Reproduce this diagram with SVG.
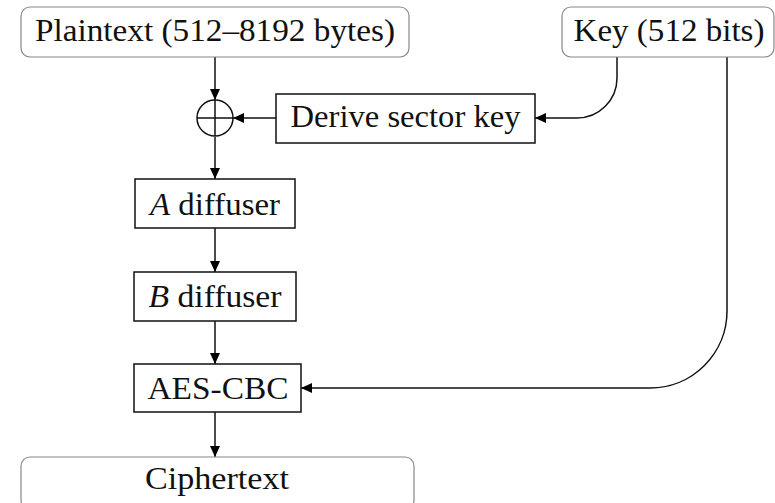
<svg xmlns="http://www.w3.org/2000/svg" width="775" height="503" viewBox="0 0 775 503">
<defs>
<marker id="ah" viewBox="0 0 11 10" refX="11" refY="5" markerWidth="11" markerHeight="10" markerUnits="userSpaceOnUse" orient="auto">
<path d="M0,0 L11,5 L0,10 Z" fill="#000"/>
</marker>
<style>
.t{font-family:"Liberation Serif","DejaVu Serif",serif;font-size:32px;fill:#111;text-anchor:middle}
.r{fill:#fff;stroke:#888;stroke-width:1.2}
.b{fill:#fff;stroke:#111;stroke-width:1.5}
.c{fill:none;stroke:#111;stroke-width:1.5;marker-end:url(#ah)}
</style>
</defs>
<rect width="775" height="503" fill="#fff"/>
<g id="connectors">
<path class="c" d="M215,57 V100"/>
<path class="c" d="M276,118 H233"/>
<path class="c" d="M617,57 V78 A40,40 0 0 1 577,118 H535"/>
<path class="c" d="M215,137 V179"/>
<path class="c" d="M215,228 V272"/>
<path class="c" d="M215,321 V364"/>
<path class="c" d="M727,57 V311 A77,77 0 0 1 650,388 H301"/>
<path class="c" d="M215,412 V457"/>
</g>
<g id="plaintext">
<rect class="r" x="21" y="7" width="388" height="50" rx="9"/>
<text class="t" x="215" y="41" textLength="360" lengthAdjust="spacingAndGlyphs">Plaintext (512–8192 bytes)</text>
</g>
<g id="key">
<rect class="r" x="562" y="7" width="212" height="50" rx="9"/>
<text class="t" x="669" y="41" textLength="191" lengthAdjust="spacingAndGlyphs">Key (512 bits)</text>
</g>
<g id="xor">
<circle cx="215" cy="118" r="18" fill="#fff" stroke="#111" stroke-width="1.5"/>
<path d="M197,118 H233 M215,100 V136" stroke="#111" stroke-width="1.5"/>
</g>
<g id="derive">
<rect class="b" x="276" y="94" width="259" height="49"/>
<text class="t" x="405.5" y="127" textLength="230" lengthAdjust="spacingAndGlyphs">Derive sector key</text>
</g>
<g id="adiff">
<rect class="b" x="135" y="179" width="160" height="49"/>
<text class="t" x="215" y="215" textLength="130" lengthAdjust="spacingAndGlyphs"><tspan font-style="italic">A</tspan> diffuser</text>
</g>
<g id="bdiff">
<rect class="b" x="134" y="272" width="162" height="49"/>
<text class="t" x="215" y="307" textLength="133" lengthAdjust="spacingAndGlyphs"><tspan font-style="italic">B</tspan> diffuser</text>
</g>
<g id="aes">
<rect class="b" x="134" y="364" width="167" height="48"/>
<text class="t" x="218" y="399" textLength="141" lengthAdjust="spacingAndGlyphs">AES-CBC</text>
</g>
<g id="ciphertext">
<rect class="r" x="21" y="457" width="393" height="52" rx="9"/>
<text class="t" x="217" y="489" textLength="144" lengthAdjust="spacingAndGlyphs">Ciphertext</text>
</g>
</svg>
